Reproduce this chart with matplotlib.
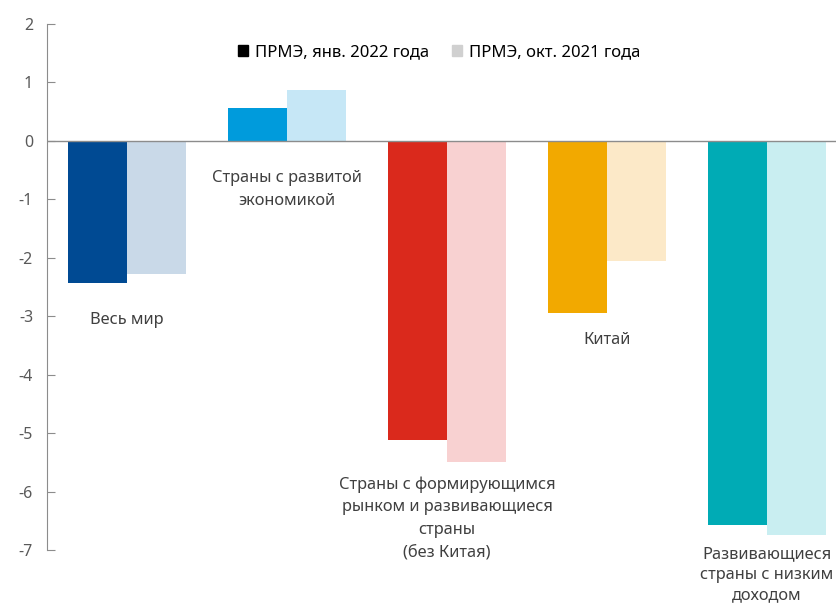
import numpy as np
import matplotlib.pyplot as plt
from matplotlib.patches import Patch

plt.rcParams['font.family'] = ['Noto Sans', 'DejaVu Sans']

# data
categories = ['Весь мир', 'Страны с развитой\nэкономикой',
              'Страны с формирующимся\nрынком и развивающиеся\nстраны\n(без Китая)',
              'Китай', 'Развивающиеся\nстраны с низким\nдоходом']
jan2022 = [-2.43, 0.56, -5.12, -2.95, -6.58]
oct2021 = [-2.28, 0.87, -5.5, -2.05, -6.75]
label_y = [-2.92, -0.5, -5.74, -3.27, -6.93]
label_spacing = [1.5, 1.55, 1.55, 1.5, 1.4]

dark_colors = ['#004a93', '#009bdc', '#da291c', '#f2a900', '#00abb5']
light_colors = ['#c9d9e8', '#c6e7f6', '#f8d1d1', '#fce9c8', '#c9eef1']
legend_labels = ['ПРМЭ, янв. 2022 года', 'ПРМЭ, окт. 2021 года']

fig = plt.figure(figsize=(8.37, 6.08), dpi=100)
ax = fig.add_axes([47 / 837, 58 / 608, 800 / 837, 526 / 608])

x = np.arange(len(categories))
w = 0.37
ax.bar(x - w / 2, jan2022, w, color=dark_colors)
ax.bar(x + w / 2, oct2021, w, color=light_colors)

for xi, lab, ly, ls in zip(x, categories, label_y, label_spacing):
    ax.text(xi, ly, lab, ha='center', va='top', fontsize=11.8, color='#404040',
            linespacing=ls)

ax.axhline(0, color='#8c8c8c', lw=1)
ax.set_xlim(-0.5, 4.5)
ax.set_ylim(-7, 2)
ax.set_yticks(range(-7, 3))
ax.set_yticklabels([str(v) for v in range(-7, 3)])
ax.tick_params(axis='y', direction='in', length=6, color='#8c8c8c',
               labelcolor='#595959', labelsize=11.5, pad=10)
ax.set_xticks([])
for s in ['top', 'right', 'bottom']:
    ax.spines[s].set_visible(False)
ax.spines['left'].set_color('#8c8c8c')

handles = [Patch(color='black'), Patch(color='#d0d0d0')]
ax.legend(handles, legend_labels, loc='upper center', bbox_to_anchor=(0.49, 0.99),
          ncol=2, frameon=False, fontsize=12, handlelength=0.6, handleheight=0.6,
          handletextpad=0.4, columnspacing=1.4)

fig.savefig('out.png', dpi=100)
